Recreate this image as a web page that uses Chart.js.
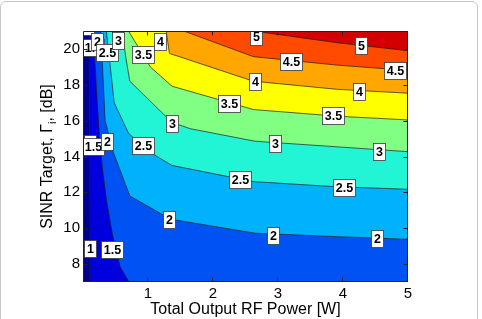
<!DOCTYPE html>
<html><head><meta charset="utf-8">
<script src="https://cdn.jsdelivr.net/npm/chart.js@4/dist/chart.umd.min.js"></script>
<style>
html,body{margin:0;padding:0;background:#fff;}
#wrap{position:relative;width:482px;height:319px;overflow:hidden;background:#fff;}
#frame{position:absolute;left:0;top:1px;width:476px;height:340px;border:1px solid #c6c6c6;border-radius:6px;}
canvas{position:absolute;left:0;top:0;}
</style></head><body>
<div id="wrap"><div id="frame"></div><canvas id="c" width="482" height="319"></canvas></div>
<script>
// ---- axes ----
const xRange = [0, 5];
const yRange = [7, 21];
const xTicks = [1, 2, 3, 4, 5];
const yTicks = [8, 10, 12, 14, 16, 18, 20];

// ---- contour levels and their lines (x = power [W], y = SINR target [dB]) ----
const levels = [1, 1.5, 2, 2.5, 3, 3.5, 4, 4.5, 5];
const contour_1_0 = [[0.095,21],[0.10,14],[0.11,7]];
const contour_1_5 = [[0.16,21],[0.18,19.5],[0.22,17],[0.25,15.3],[0.30,13.3],[0.36,11.6],[0.45,9.7],[0.57,7.85],[0.71,7]];
const contour_2_0 = [[0.27,21],[0.30,19],[0.34,16],[0.47,14.2],[0.72,11.8],[1.35,10.5],[2.65,9.72],[3.9,9.53],[5,9.38]];
const contour_2_5 = [[0.36,21],[0.42,19],[0.48,17],[0.70,15.3],[1.0,14.3],[1.37,13.5],[2.62,12.6],[3.86,12.32],[5,12.17]];
const contour_3_0 = [[0.60,21],[0.66,19.5],[0.72,18.2],[1.37,15.9],[1.65,15.55],[2.65,14.85],[5,14.27]];
const contour_3_5 = [[0.70,21],[1.035,19.0],[1.37,17.92],[2.62,16.62],[3.9,16.25],[5,16.04]];
const contour_4_0 = [[1.28,21],[1.33,19.75],[2.62,18.2],[3.9,17.75],[5,17.53]];
const contour_4_5 = [[1.55,21],[2.62,19.57],[3.9,19.1],[5,18.8]];
const contour_5_0 = [[2.62,21],[3.9,20.35],[5,19.9]];
const contours = [contour_1_0, contour_1_5, contour_2_0, contour_2_5, contour_3_0, contour_3_5, contour_4_0, contour_4_5, contour_5_0];

// band colours: below 1, 1-1.5, ..., above 5
const bandColors = ['#00008E','#0000DE','#0052F2','#00B2FC','#22F5D6','#80FF82','#FFFF00','#FFA600','#FF4A00','#D20000'];

// ---- contour labels ----
const labelText = ['1','1.5','2','2.5','3','3.5','4','5','5','4.5','4.5','4','4','3.5','3.5','3','3','3','2.5','2.5','2.5','1','1.5','2','2','2','2','1','1.5'];
const labelX    = [0.07,0.16,0.22,0.37,0.54,0.92,1.18,2.66,4.27,3.2,4.8,2.64,4.24,2.25,3.84,1.37,2.95,4.56,0.93,2.42,4.02,0.10,0.16,0.37,1.32,2.92,4.53,0.10,0.44];
const labelY    = [21.25,20.1,20.4,19.8,20.45,19.7,20.4,20.67,20.17,19.31,18.77,18.16,17.65,16.95,16.28,15.85,14.74,14.3,14.6,12.72,12.29,14.75,14.55,14.81,10.46,9.62,9.44,8.89,8.83];

const xTitle = 'Total Output RF Power [W]';
const yTitleMain = 'SINR Target, \u0393';
const yTitleSub = 'i';
const yTitleEnd = ', [dB]';

// ---- build datasets ----
const pts = a => a.map(p => ({x: p[0], y: p[1]}));
const datasets = [];
datasets.push({
  data: pts([[xRange[0],yRange[0]],[xRange[0],yRange[1]],[xRange[1],yRange[1]],[xRange[1],yRange[0]]]),
  backgroundColor: bandColors[0], borderWidth: 0, pointRadius: 0, fill: 'shape', order: 100
});
contours.forEach((c, i) => {
  const poly = c.slice();
  const last = c[c.length-1];
  if (last[1] <= yRange[0]) poly.push([xRange[1], yRange[0]]);
  poly.push([xRange[1], yRange[1]]);
  datasets.push({
    data: pts(poly), backgroundColor: bandColors[i+1], borderWidth: 0,
    pointRadius: 0, fill: 'shape', order: 99 - i
  });
});
contours.forEach((c) => {
  datasets.push({
    data: pts(c), borderColor: '#1e1e1e', borderWidth: 0.7, backgroundColor: 'transparent',
    pointRadius: 0, fill: false, order: 10
  });
});

const overlay = {
  id: 'overlay',
  afterDatasetsDraw(chart) {
    const {ctx, chartArea: a, scales: {x, y}} = chart;
    ctx.save();
    ctx.beginPath(); ctx.rect(a.left, a.top, a.right - a.left, a.bottom - a.top); ctx.clip();
    ctx.font = 'bold 12.5px "Liberation Sans", Arial, sans-serif';
    ctx.textAlign = 'center'; ctx.textBaseline = 'middle';
    for (let i = 0; i < labelText.length; i++) {
      const px = x.getPixelForValue(labelX[i]), py = y.getPixelForValue(labelY[i]);
      const w = Math.round(ctx.measureText(labelText[i]).width + 5), h = 17;
      const l = Math.round(px - w/2) + 0.5, t = Math.round(py - h/2) + 0.5;
      ctx.fillStyle = '#fff'; ctx.fillRect(l, t, w, h);
      ctx.strokeStyle = '#3a3a3a'; ctx.lineWidth = 0.8; ctx.strokeRect(l, t, w, h);
      ctx.fillStyle = '#000'; ctx.fillText(labelText[i], l + w/2, t + h/2 + 1);
    }
    ctx.restore();
    ctx.save();
    ctx.strokeStyle = '#222'; ctx.lineWidth = 1;
    const L = a.left + 0.5, R = a.right - 0.5, T = a.top + 0.5, B = a.bottom - 0.5;
    ctx.beginPath();
    ctx.rect(L, T, R - L, B - T);
    xTicks.forEach(v => { const p = Math.round(x.getPixelForValue(v)) - 0.5; ctx.moveTo(p, B); ctx.lineTo(p, B - 4); ctx.moveTo(p, T); ctx.lineTo(p, T + 4); });
    yTicks.forEach(v => { const p = Math.round(y.getPixelForValue(v)) + 0.5; ctx.moveTo(L, p); ctx.lineTo(L + 4, p); ctx.moveTo(R, p); ctx.lineTo(R - 4, p); });
    ctx.stroke();
    ctx.restore();
  },
  afterDraw(chart) {
    const {ctx, chartArea: a} = chart;
    ctx.save();
    ctx.fillStyle = '#000';
    ctx.font = '16px "Liberation Sans", Arial, sans-serif';
    ctx.textAlign = 'center'; ctx.textBaseline = 'alphabetic';
    ctx.fillText(xTitle, (a.left + a.right) / 2, 313.5);
    const fMain = '16px "Liberation Sans", Arial, sans-serif';
    const fSub = '11px "Liberation Sans", Arial, sans-serif';
    ctx.font = fMain; const w1 = ctx.measureText(yTitleMain).width; const w3 = ctx.measureText(yTitleEnd).width;
    ctx.font = fSub; const w2 = ctx.measureText(yTitleSub).width;
    const total = w1 + w2 + w3;
    ctx.translate(51.5, (a.top + a.bottom) / 2);
    ctx.rotate(-Math.PI / 2);
    ctx.textAlign = 'left';
    let cx = -total / 2;
    ctx.font = fMain; ctx.fillText(yTitleMain, cx, 0); cx += w1;
    ctx.font = fSub; ctx.fillText(yTitleSub, cx, 4); cx += w2;
    ctx.font = fMain; ctx.fillText(yTitleEnd, cx, 0);
    ctx.restore();
  }
};

new Chart(document.getElementById('c'), {
  type: 'line',
  data: { datasets },
  options: {
    responsive: false, animation: false, devicePixelRatio: 1,
    layout: { padding: { left: 0, top: 31, right: 74, bottom: 0 } },
    plugins: { legend: { display: false }, tooltip: { enabled: false } },
    elements: { line: { tension: 0 } },
    scales: {
      x: {
        type: 'linear', min: xRange[0], max: xRange[1],
        afterBuildTicks: s => { s.ticks = xTicks.map(v => ({value: v})); },
        afterFit: s => { s.height = 37; },
        grid: { display: false, drawTicks: false }, border: { display: false },
        ticks: { color: '#000', padding: 3, maxRotation: 0, font: { family: '"Liberation Sans", Arial, sans-serif', size: 15 } }
      },
      y: {
        type: 'linear', min: yRange[0], max: yRange[1],
        afterBuildTicks: s => { s.ticks = yTicks.map(v => ({value: v})); },
        afterFit: s => { s.width = 83; },
        grid: { display: false, drawTicks: false }, border: { display: false },
        ticks: { color: '#000', padding: 3, font: { family: '"Liberation Sans", Arial, sans-serif', size: 15 } }
      }
    }
  },
  plugins: [overlay]
});
</script>
</body></html>
